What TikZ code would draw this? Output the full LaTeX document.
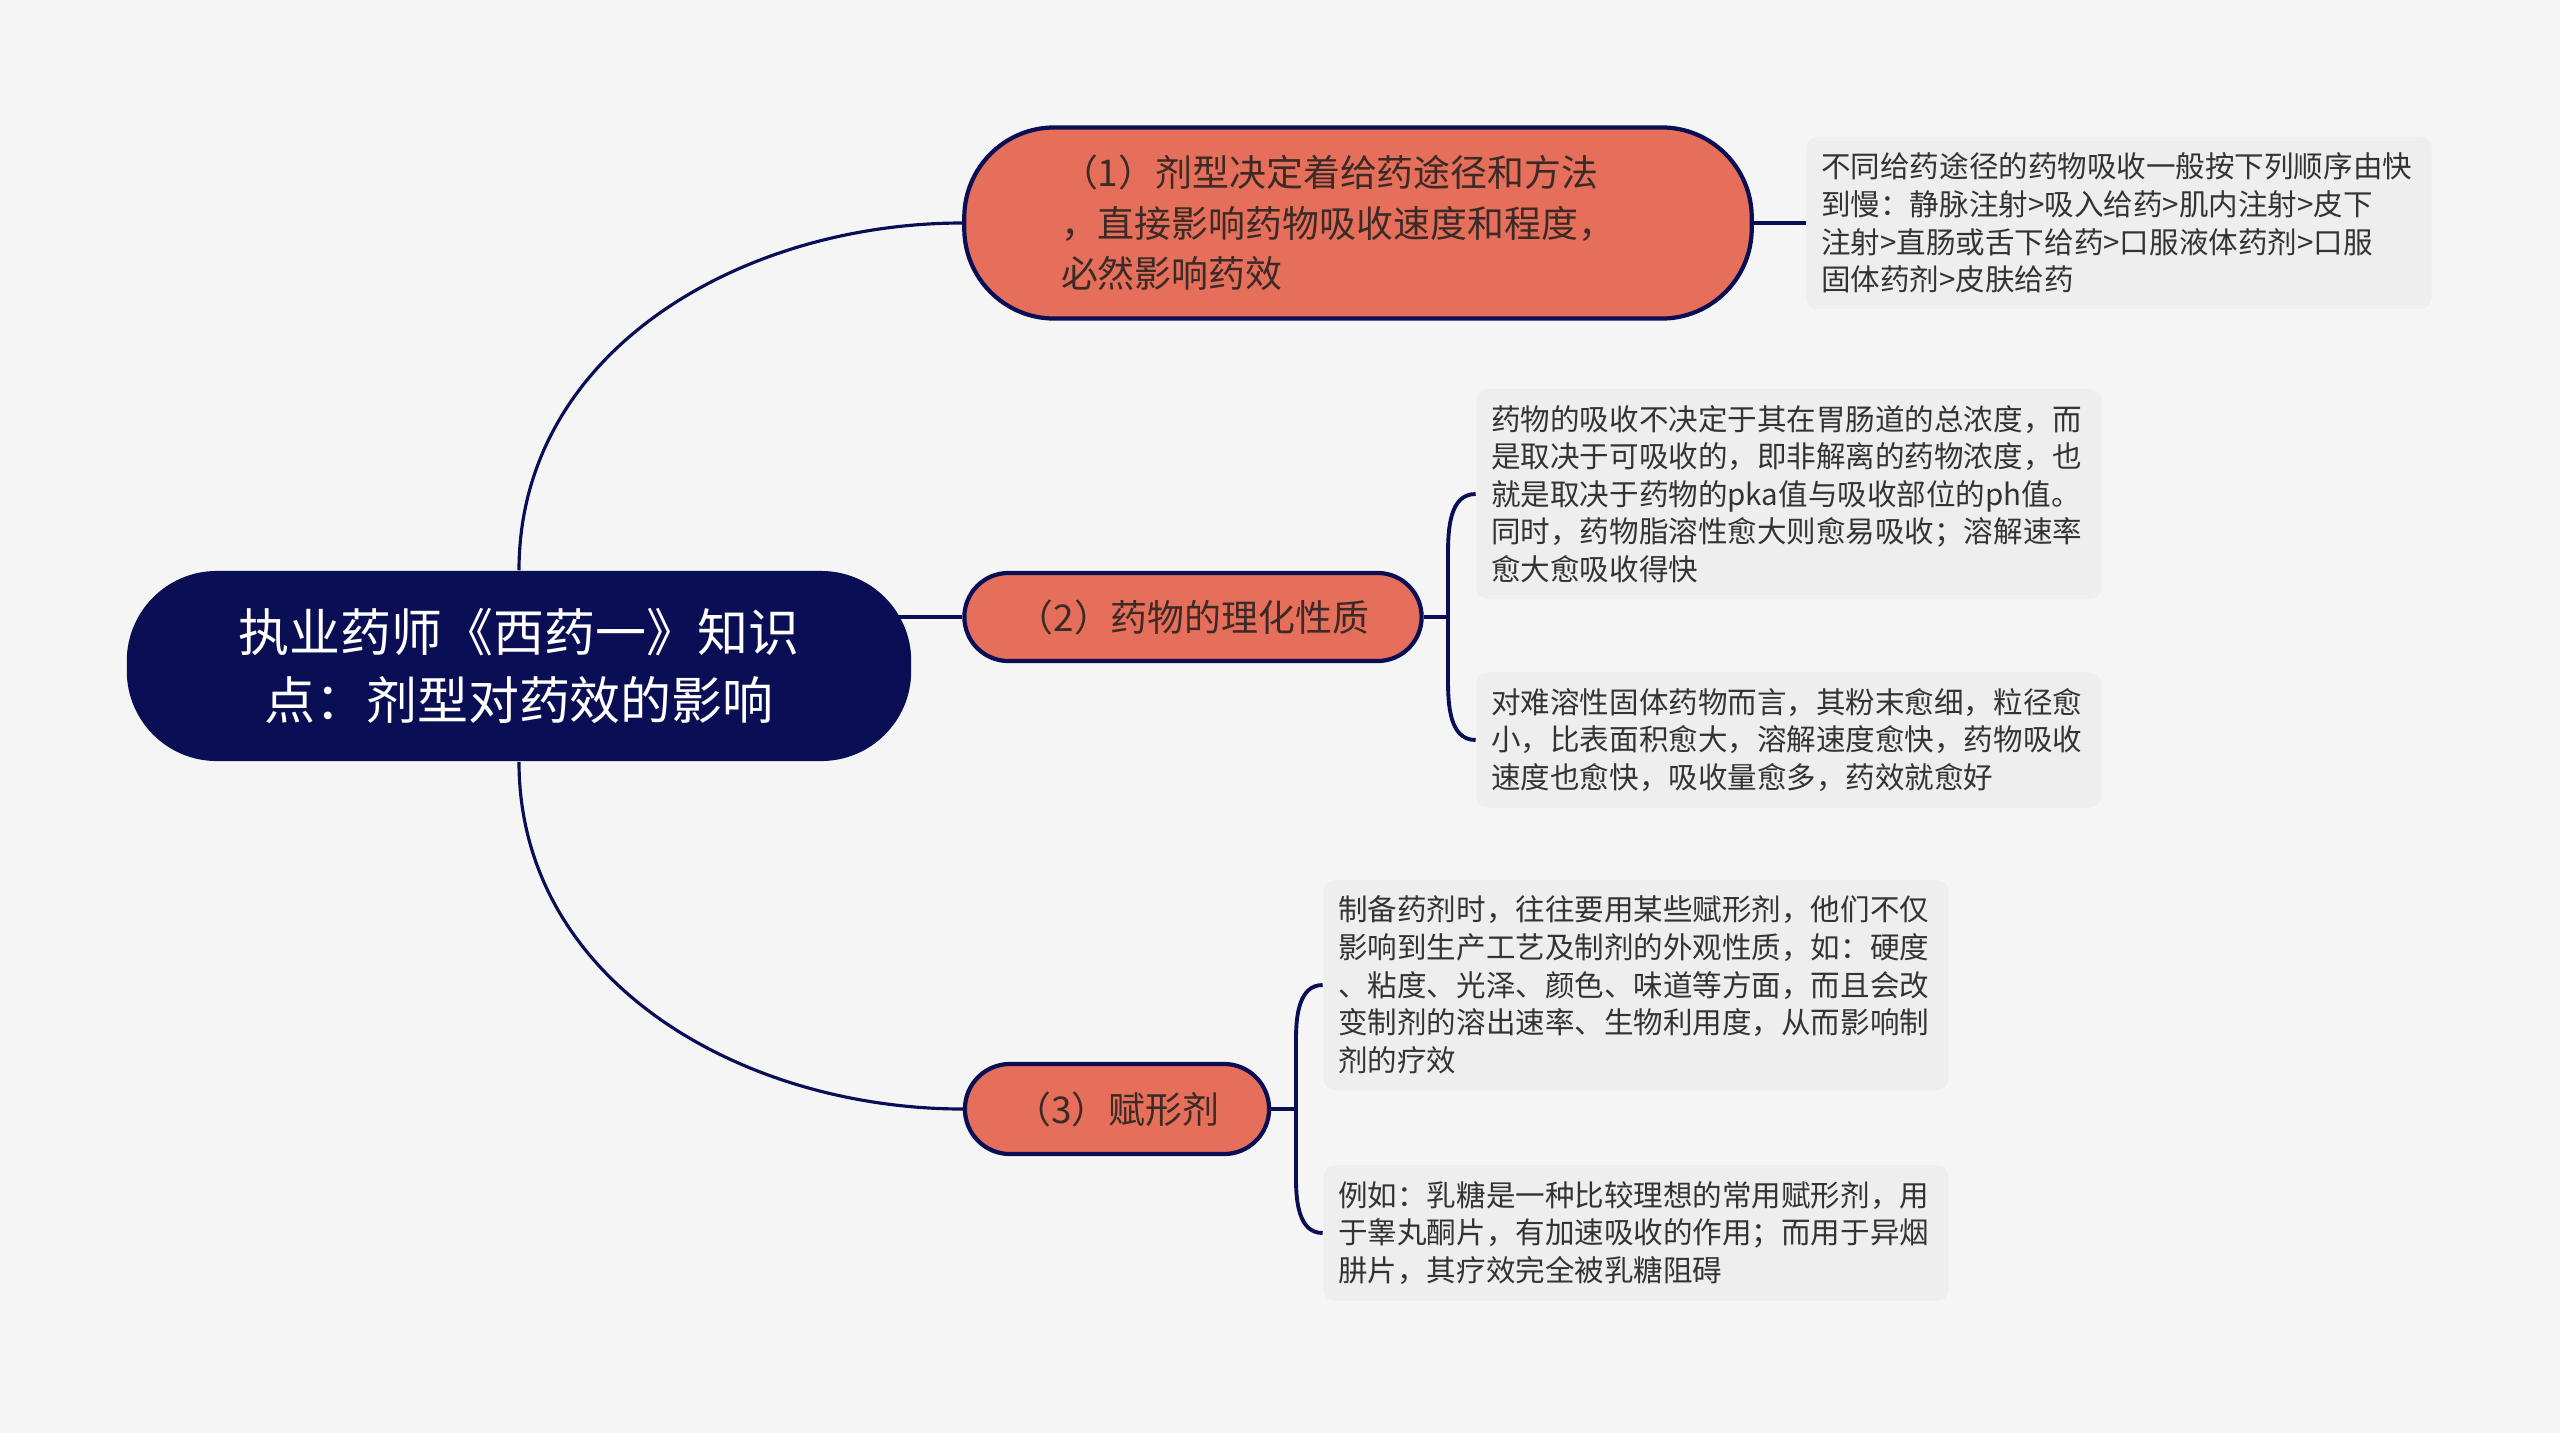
\documentclass[tikz,border=0pt]{standalone}
\usepackage{fontspec}
\newfontfamily\cjkfont{Noto Sans CJK SC}
\usetikzlibrary{calc}
\definecolor{bgcol}{HTML}{F5F5F5}
\definecolor{navy}{HTML}{0A0F55}
\definecolor{coral}{HTML}{E56F5A}
\definecolor{leafgray}{HTML}{EEEEEE}
\definecolor{txtdark}{HTML}{333333}
\definecolor{txtbrown}{HTML}{3B2A26}
\pgfdeclarelayer{back}
\pgfsetlayers{back,main}
\tikzset{
	rootbox/.style={fill=navy, rounded corners=0.9cm, minimum width=7.84cm, minimum height=1.9cm, text=white, align=center, font=\cjkfont\fontsize{14.5}{19.5}\selectfont},
	branchbox/.style={draw=navy, line width=1.2pt, fill=coral, text=txtbrown, align=left, font=\cjkfont\fontsize{10.5}{14.4}\selectfont},
	leafbox/.style={fill=leafgray, rounded corners=0.12cm, text=txtdark, align=left, text width=5.95cm, inner xsep=0.15cm, inner ysep=0.16cm, font=\cjkfont\fontsize{8.4}{10.7}\selectfont},
	curve/.style={draw=navy, line width=0.9pt},
	brace/.style={draw=navy, line width=1.1pt}
}

\begin{document}
\begin{tikzpicture}[x=0.01cm, y=-0.01cm]
		%%%%% START %%%%%
		\useasboundingbox (0,0) rectangle (2560,1433);
		
		\node[rootbox] (root) at (519,666) {执业药师《西药一》知识\\点：剂型对药效的影响};
		
		\node[branchbox, rounded corners=0.9cm, minimum width=7.87cm, minimum height=1.91cm] (br1) at (1358,223)
			{（1）剂型决定着给药途径和方法\\，直接影响药物吸收速度和程度，\rule{0.4cm}{0pt}\\必然影响药效};
		\node[branchbox, rounded corners=0.44cm, minimum width=4.57cm, minimum height=0.88cm] (br2) at (1193,617) {（2）药物的理化性质};
		\node[branchbox, rounded corners=0.45cm, minimum width=3.04cm, minimum height=0.9cm] (br3) at (1117,1109) {（3）赋形剂};
		
		\node[leafbox] (lf1) at (2119,223) {不同给药途径的药物吸收一般按下列顺序由快\\到慢：静脉注射>吸入给药>肌内注射>皮下\\注射>直肠或舌下给药>口服液体药剂>口服\\固体药剂>皮肤给药};
		\node[leafbox] (lf2a) at (1789,494) {药物的吸收不决定于其在胃肠道的总浓度，而\\是取决于可吸收的，即非解离的药物浓度，也\\就是取决于药物的pka值与吸收部位的ph值。\\同时，药物脂溶性愈大则愈易吸收；溶解速率\\愈大愈吸收得快};
		\node[leafbox] (lf2b) at (1789,740) {对难溶性固体药物而言，其粉末愈细，粒径愈\\小，比表面积愈大，溶解速度愈快，药物吸收\\速度也愈快，吸收量愈多，药效就愈好};
		\node[leafbox] (lf3a) at (1636,985) {制备药剂时，往往要用某些赋形剂，他们不仅\\影响到生产工艺及制剂的外观性质，如：硬度\\、粘度、光泽、颜色、味道等方面，而且会改\\变制剂的溶出速率、生物利用度，从而影响制\\剂的疗效};
		\node[leafbox] (lf3b) at (1636,1233) {例如：乳糖是一种比较理想的常用赋形剂，用\\于睾丸酮片，有加速吸收的作用；而用于异烟\\肼片，其疗效完全被乳糖阻碍};
		
		\coordinate (j2) at (1448,617);
		\coordinate (j3) at (1296,1109);
		
		\begin{pgfonlayer}{back}
			\fill[bgcol] (0,0) rectangle (2560,1433);
			
			\draw[curve] (root.north) to[out=90,in=180] (br1.west);
			\draw[curve] (root.south) to[out=-90,in=180] (br3.west);
			\draw[brace] (root.center |- br2.west) -- (br2.west);
			\draw[brace] (br1.east) -- (lf1.west);
			
			\draw[brace] (br2.east) -- (j2);
			\draw[brace] (lf2a.west) to[out=180,in=90] ($(j2)+(0,-62)$) -- ($(j2)+(0,62)$) to[out=-90,in=180] (lf2b.west);
			
			\draw[brace] (br3.east) -- (j3);
			\draw[brace] (lf3a.west) to[out=180,in=90] ($(j3)+(0,-70)$) -- ($(j3)+(0,70)$) to[out=-90,in=180] (lf3b.west);
		\end{pgfonlayer}
		%%%%% END %%%%%
\end{tikzpicture}
\end{document}
